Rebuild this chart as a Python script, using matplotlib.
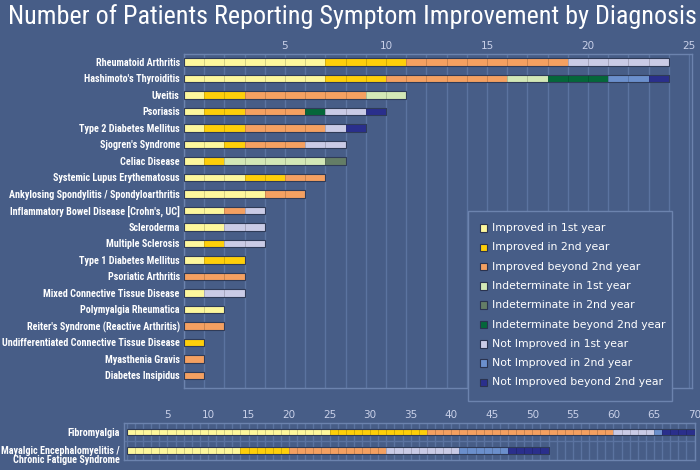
import matplotlib
matplotlib.use("Agg")
import matplotlib.pyplot as plt
from matplotlib.patches import Rectangle
import matplotlib.colors as mcolors
import matplotlib.transforms as mtransforms
from matplotlib import font_manager

# ---------------- data ----------------
series_names = [
    "Improved in 1st year", "Improved in 2nd year", "Improved beyond 2nd year",
    "Indeterminate in 1st year", "Indeterminate in 2nd year", "Indeterminate beyond 2nd year",
    "Not Improved in 1st year", "Not Improved in 2nd year", "Not Improved beyond 2nd year",
]
series_colors = ["#fdf79c", "#fecf0a", "#f4a061", "#d3e8b6", "#647d66", "#05673a",
                 "#cacbe6", "#6b8fcc", "#2a2f8c"]

top_categories = [
    "Rheumatoid Arthritis", "Hashimoto's Thyroiditis", "Uveitis", "Psoriasis",
    "Type 2 Diabetes Mellitus", "Sjogren's Syndrome", "Celiac Disease",
    "Systemic Lupus Erythematosus", "Ankylosing Spondylitis / Spondyloarthritis",
    "Inflammatory Bowel Disease [Crohn's, UC]", "Scleroderma", "Multiple Sclerosis",
    "Type 1 Diabetes Mellitus", "Psoriatic Arthritis", "Mixed Connective Tissue Disease",
    "Polymyalgia Rheumatica", "Reiter's Syndrome (Reactive Arthritis)",
    "Undifferentiated Connective Tissue Disease", "Myasthenia Gravis", "Diabetes Insipidus",
]
top_improved_1st = [7, 7, 1, 1, 1, 2, 1, 3, 4, 2, 2, 1, 1, 0, 1, 2, 0, 0, 0, 0]
top_improved_2nd = [4, 3, 2, 2, 2, 1, 1, 2, 0, 0, 0, 1, 2, 0, 0, 0, 0, 1, 0, 0]
top_improved_beyond = [8, 6, 6, 3, 4, 3, 0, 2, 2, 1, 0, 0, 0, 3, 0, 0, 2, 0, 1, 1]
top_indet_1st = [0, 2, 2, 0, 0, 0, 5, 0, 0, 0, 0, 0, 0, 0, 0, 0, 0, 0, 0, 0]
top_indet_2nd = [0, 0, 0, 0, 0, 0, 1, 0, 0, 0, 0, 0, 0, 0, 0, 0, 0, 0, 0, 0]
top_indet_beyond = [0, 3, 0, 1, 0, 0, 0, 0, 0, 0, 0, 0, 0, 0, 0, 0, 0, 0, 0, 0]
top_notimp_1st = [5, 0, 0, 2, 1, 2, 0, 0, 0, 1, 2, 2, 0, 0, 2, 0, 0, 0, 0, 0]
top_notimp_2nd = [0, 2, 0, 0, 0, 0, 0, 0, 0, 0, 0, 0, 0, 0, 0, 0, 0, 0, 0, 0]
top_notimp_beyond = [0, 1, 0, 1, 1, 0, 0, 0, 0, 0, 0, 0, 0, 0, 0, 0, 0, 0, 0, 0]
top_ticks = [5, 10, 15, 20, 25]

bottom_categories = ["Fibromyalgia", "Mayalgic Encephalomyelitis /\nChronic Fatigue Syndrome"]
bot_improved_1st = [25, 14]
bot_improved_2nd = [12, 6]
bot_improved_beyond = [23, 12]
bot_indet_1st = [0, 0]
bot_indet_2nd = [0, 0]
bot_indet_beyond = [0, 0]
bot_notimp_1st = [5, 9]
bot_notimp_2nd = [1, 6]
bot_notimp_beyond = [4, 5]
bottom_ticks = list(range(5, 75, 5))

title = "Number of Patients Reporting Symptom Improvement by Diagnosis"

# ---------------- style ----------------
W, H = 700, 470
BG = "#475d87"
GRID = "#5b73a0"
FRAME = "#6c83ae"
TICKC = "#c9d0e8"

available = {f.name for f in font_manager.fontManager.ttflist}
NARROW = "Liberation Sans"
for cand in ["Liberation Sans Narrow", "DejaVu Sans Condensed", "Roboto Condensed",
             "Open Sans Condensed", "Liberation Sans"]:
    if cand in available:
        NARROW = cand
        break

fig = plt.figure(figsize=(W / 100, H / 100), dpi=100)
fig.patch.set_facecolor(BG)
renderer = fig.canvas.get_renderer()


def fit_size(text, target_px, weight, base=10.0):
    t = fig.text(0, 0, text, fontsize=base, family=NARROW, fontweight=weight)
    w = t.get_window_extent(renderer=renderer).width
    t.remove()
    return base * target_px / w


def px_axes(x0, y0, x1, y1):
    return fig.add_axes([x0 / W, 1 - y1 / H, (x1 - x0) / W, (y1 - y0) / H])


def darker(c, f=0.82):
    r, g, b = mcolors.to_rgb(c)
    return (r * f, g * f, b * f)


def draw_bars(ax, series, height):
    n = len(series[0])
    for i in range(n):
        left = 0
        for s, col in zip(series, series_colors):
            cnt = s[i]
            for k in range(cnt):
                ax.barh(i, 1, left=left + k, height=height, color=col,
                        edgecolor=darker(col), linewidth=0.6, zorder=3)
            left += cnt
        ax.barh(i, left, left=0, height=height, fill=False,
                edgecolor="#2f3b58", linewidth=0.8, zorder=4)


def style_axes(ax, xticks):
    ax.set_facecolor(BG)
    for sp in ax.spines.values():
        sp.set_color(FRAME)
        sp.set_linewidth(1.0)
    ax.xaxis.tick_top()
    ax.set_xticks(xticks)
    ax.set_xticklabels([str(t) for t in xticks], color=TICKC, fontsize=7.5,
                       family="DejaVu Sans")
    ax.tick_params(axis="x", length=0, pad=2)
    ax.tick_params(axis="y", length=0, pad=3)
    ax.set_xticks(range(0, int(ax.get_xlim()[1]) + 1), minor=True)
    ax.tick_params(axis="x", which="minor", length=0)
    ax.grid(True, axis="x", which="both", color=GRID, linewidth=1.0, zorder=0)
    ax.set_axisbelow(True)


label_size = min(7.3, fit_size("Inflammatory Bowel Disease [Crohn's, UC]", 172, "bold"))
title_size = fit_size(title, 684, "normal")

# ---------------- top chart ----------------
ax1 = px_axes(184, 54, 692, 388)
top_series = [top_improved_1st, top_improved_2nd, top_improved_beyond,
              top_indet_1st, top_indet_2nd, top_indet_beyond,
              top_notimp_1st, top_notimp_2nd, top_notimp_beyond]
ax1.set_xlim(0, 25.15)
ax1.set_ylim(19.76, -0.485)
draw_bars(ax1, top_series, 0.45)
style_axes(ax1, top_ticks)
ax1.set_yticks(range(len(top_categories)))
ax1.set_yticklabels(top_categories, color="white", fontsize=label_size,
                    fontweight="bold", family=NARROW)

# ---------------- bottom chart ----------------
ax2 = px_axes(124, 423, 695, 460)
bot_series = [bot_improved_1st, bot_improved_2nd, bot_improved_beyond,
              bot_indet_1st, bot_indet_2nd, bot_indet_beyond,
              bot_notimp_1st, bot_notimp_2nd, bot_notimp_beyond]
ax2.set_xlim(-0.35, 70.05)
ax2.set_ylim(1.55, -0.5)
draw_bars(ax2, bot_series, 0.38)
style_axes(ax2, bottom_ticks)
ax2.axhline(0.5, color=GRID, linewidth=1.0, zorder=0)
ax2.set_yticks(range(len(bottom_categories)))
labels = ax2.set_yticklabels(bottom_categories, color="white", fontsize=label_size,
                             fontweight="bold", family=NARROW,
                             linespacing=0.95)
labels[1].set_multialignment("right")
labels[1].set_transform(labels[1].get_transform() +
                        mtransforms.ScaledTranslation(0, -4.5 / 100, fig.dpi_scale_trans))

# ---------------- legend ----------------
lx0, ly0, lx1, ly1 = 468, 211, 672, 401
fig.patches.append(Rectangle((lx0 / W, 1 - ly1 / H), (lx1 - lx0) / W, (ly1 - ly0) / H,
                             transform=fig.transFigure, facecolor=BG,
                             edgecolor=FRAME, linewidth=1.0, zorder=5))
for j, (name, col) in enumerate(zip(series_names, series_colors)):
    yc = 228 + j * 19.3
    fig.patches.append(Rectangle((479.5 / W, 1 - (yc + 3.8) / H), 7.5 / W, 7.6 / H,
                                 transform=fig.transFigure, facecolor=col,
                                 edgecolor="#2a3350", linewidth=0.8, zorder=6))
    fig.text(492 / W, 1 - yc / H, name, color="white", fontsize=7.8,
             family="DejaVu Sans", va="center", ha="left", zorder=7)

# ---------------- title ----------------
fig.text(8 / W, 1 - 17 / H, title, color="white", fontsize=title_size,
         family=NARROW, va="center", ha="left")

fig.savefig("out.png", dpi=100, facecolor=BG)
